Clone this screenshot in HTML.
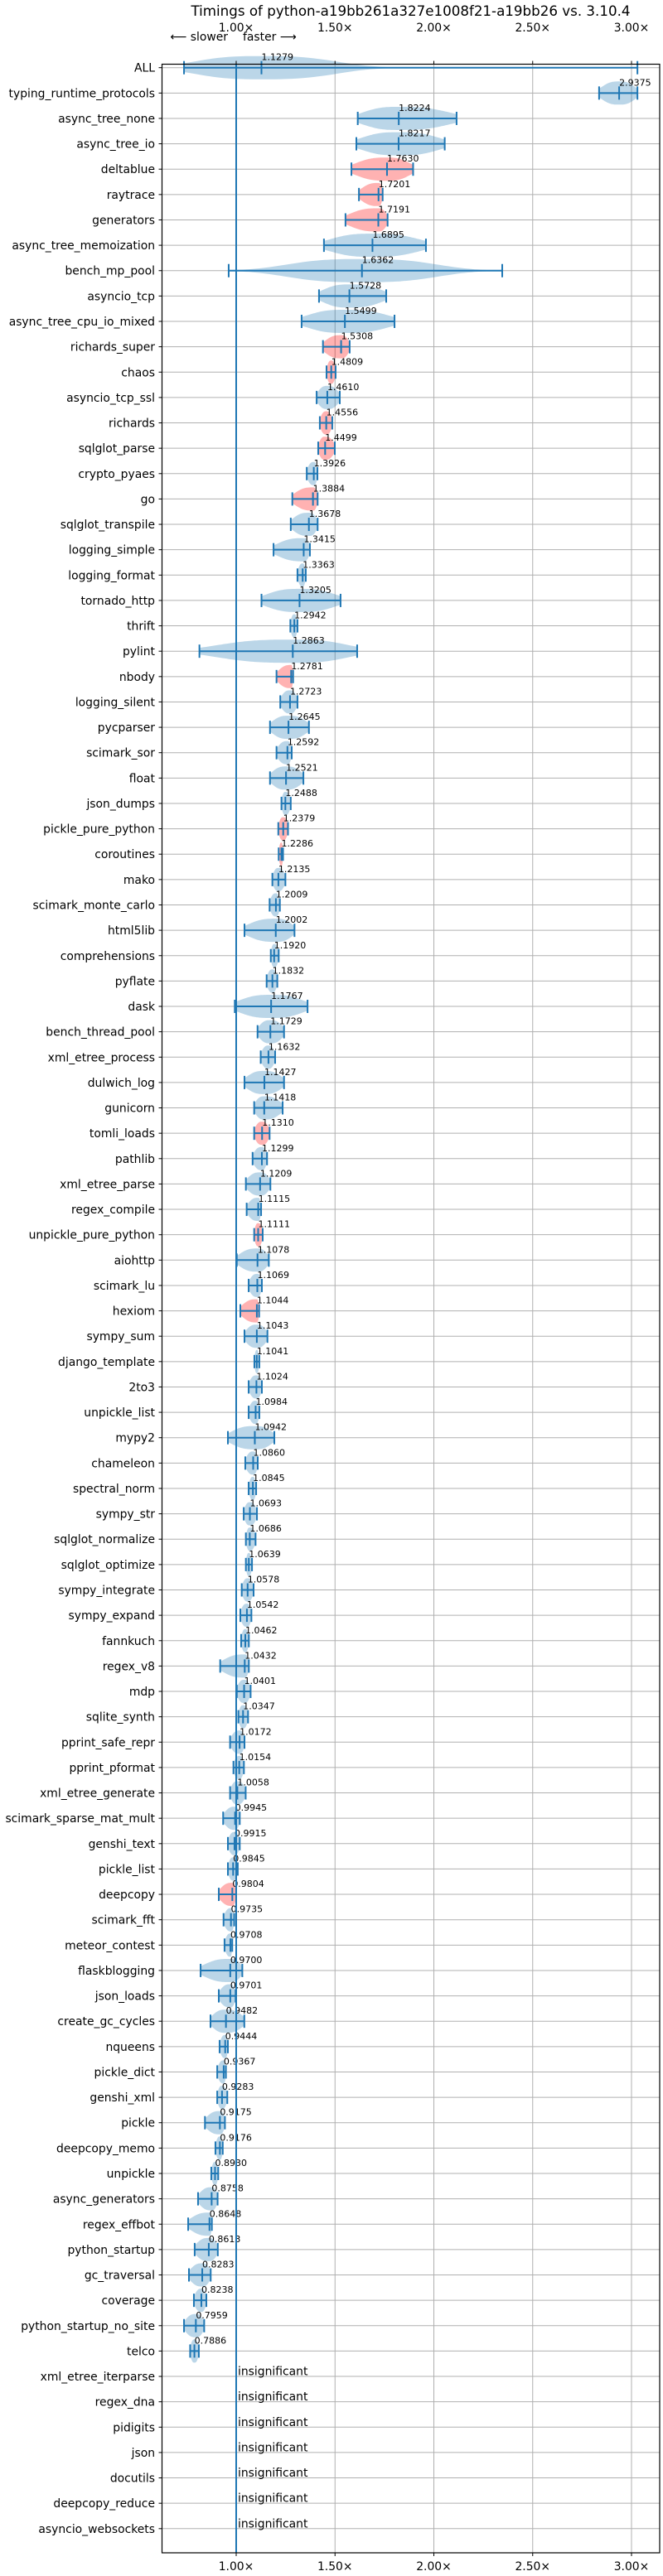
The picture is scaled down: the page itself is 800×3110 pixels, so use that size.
<!DOCTYPE html>
<html><head><meta charset="utf-8"><title>Timings chart</title>
<style>
html,body{margin:0;padding:0;background:#fff;}
svg{display:block;}
text{font-family:"DejaVu Sans","Liberation Sans",sans-serif;fill:#000;}
</style></head>
<body>
<svg id="chart" width="800" height="3110" viewBox="0 0 800 3110" xmlns="http://www.w3.org/2000/svg">
<text x="495.5" y="19" font-size="16.7" text-anchor="middle">Timings of python-a19bb261a327e1008f21-a19bb26 vs. 3.10.4</text>
<text x="275" y="49" font-size="13.9" text-anchor="end">⟵ slower</text>
<text x="293" y="49" font-size="13.9">faster ⟶</text>
<g id="grid"></g>
<g id="marks"></g>
<g id="labels"></g>
<g id="axes"></g>
</svg>
<script>
const benchmarks = ["ALL","typing_runtime_protocols","async_tree_none","async_tree_io","deltablue","raytrace","generators","async_tree_memoization","bench_mp_pool","asyncio_tcp","async_tree_cpu_io_mixed","richards_super","chaos","asyncio_tcp_ssl","richards","sqlglot_parse","crypto_pyaes","go","sqlglot_transpile","logging_simple","logging_format","tornado_http","thrift","pylint","nbody","logging_silent","pycparser","scimark_sor","float","json_dumps","pickle_pure_python","coroutines","mako","scimark_monte_carlo","html5lib","comprehensions","pyflate","dask","bench_thread_pool","xml_etree_process","dulwich_log","gunicorn","tomli_loads","pathlib","xml_etree_parse","regex_compile","unpickle_pure_python","aiohttp","scimark_lu","hexiom","sympy_sum","django_template","2to3","unpickle_list","mypy2","chameleon","spectral_norm","sympy_str","sqlglot_normalize","sqlglot_optimize","sympy_integrate","sympy_expand","fannkuch","regex_v8","mdp","sqlite_synth","pprint_safe_repr","pprint_pformat","xml_etree_generate","scimark_sparse_mat_mult","genshi_text","pickle_list","deepcopy","scimark_fft","meteor_contest","flaskblogging","json_loads","create_gc_cycles","nqueens","pickle_dict","genshi_xml","pickle","deepcopy_memo","unpickle","async_generators","regex_effbot","python_startup","gc_traversal","coverage","python_startup_no_site","telco","xml_etree_iterparse","regex_dna","pidigits","json","docutils","deepcopy_reduce","asyncio_websockets"];
const medians = [1.1279,2.9375,1.8224,1.8217,1.7630,1.7201,1.7191,1.6895,1.6362,1.5728,1.5499,1.5308,1.4809,1.4610,1.4556,1.4499,1.3926,1.3884,1.3678,1.3415,1.3363,1.3205,1.2942,1.2863,1.2781,1.2723,1.2645,1.2592,1.2521,1.2488,1.2379,1.2286,1.2135,1.2009,1.2002,1.1920,1.1832,1.1767,1.1729,1.1632,1.1427,1.1418,1.1310,1.1299,1.1209,1.1115,1.1111,1.1078,1.1069,1.1044,1.1043,1.1041,1.1024,1.0984,1.0942,1.0860,1.0845,1.0693,1.0686,1.0639,1.0578,1.0542,1.0462,1.0432,1.0401,1.0347,1.0172,1.0154,1.0058,0.9945,0.9915,0.9845,0.9804,0.9735,0.9708,0.9700,0.9701,0.9482,0.9444,0.9367,0.9283,0.9175,0.9176,0.8930,0.8758,0.8648,0.8613,0.8283,0.8238,0.7959,0.7886,null,null,null,null,null,null,null];
const mins = [0.736,2.836,1.615,1.608,1.583,1.621,1.553,1.444,0.962,1.419,1.331,1.439,1.457,1.407,1.423,1.415,1.357,1.284,1.276,1.189,1.310,1.128,1.274,0.814,1.204,1.223,1.171,1.204,1.171,1.229,1.213,1.215,1.183,1.169,1.042,1.175,1.154,0.993,1.108,1.124,1.042,1.091,1.091,1.083,1.049,1.053,1.091,1.003,1.063,1.021,1.042,1.092,1.063,1.063,0.958,1.046,1.063,1.038,1.049,1.049,1.028,1.021,1.025,0.919,1.003,1.011,0.969,0.986,0.969,0.934,0.958,0.958,0.912,0.936,0.941,0.820,0.912,0.870,0.916,0.904,0.904,0.842,0.895,0.874,0.807,0.757,0.790,0.761,0.786,0.736,0.767,null,null,null,null,null,null,null];
const maxs = [3.03,3.03,2.115,2.055,1.895,1.741,1.766,1.960,2.346,1.759,1.801,1.574,1.503,1.524,1.486,1.499,1.411,1.412,1.412,1.373,1.352,1.528,1.310,1.612,1.288,1.310,1.368,1.281,1.340,1.276,1.262,1.237,1.249,1.221,1.295,1.215,1.208,1.361,1.242,1.197,1.242,1.235,1.169,1.156,1.173,1.126,1.134,1.165,1.130,1.116,1.158,1.117,1.130,1.117,1.193,1.109,1.101,1.105,1.098,1.080,1.088,1.077,1.064,1.064,1.073,1.060,1.042,1.039,1.048,1.018,1.018,1.008,1.000,0.990,0.980,1.031,0.997,1.041,0.958,0.948,0.955,0.943,0.932,0.909,0.906,0.877,0.907,0.871,0.849,0.838,0.811,null,null,null,null,null,null,null];
const regressed = [0,0,0,0,1,1,1,0,0,0,0,1,1,0,1,1,0,1,0,0,0,0,0,0,1,0,0,0,0,0,1,1,0,0,0,0,0,0,0,0,0,0,1,0,0,0,1,0,0,1,0,0,0,0,0,0,0,0,0,0,0,0,0,0,0,0,0,0,0,0,0,0,1,0,0,0,0,0,0,0,0,0,0,0,0,0,0,0,0,0,0,0,0,0,0,0,0,0];
const xTicks = [1.0,1.5,2.0,2.5,3.0];
const xTickLabels = ["1.00×","1.50×","2.00×","2.50×","3.00×"];

const NS="http://www.w3.org/2000/svg";
const L=195.5,R=796,T=77.5,B=3082;
const X0=285,PX=238.5;
function xs(v){return X0+(v-1)*PX;}
function ys(i){return 81.7+i*30.63;}
function mk(tag,attrs,parent){const e=document.createElementNS(NS,tag);for(const k in attrs)e.setAttribute(k,attrs[k]);parent.appendChild(e);return e;}
const grid=document.getElementById('grid'),marks=document.getElementById('marks'),labels=document.getElementById('labels'),axes=document.getElementById('axes');
const BLUE="#1f77b4";

xTicks.forEach((t,k)=>{
  const g=mk('line',{x1:xs(t),x2:xs(t),y1:T,y2:B,stroke:'#b0b0b0','stroke-width':1},grid);
  
  
});
benchmarks.forEach((b,i)=>{
  const g=mk('line',{x1:L,x2:R,y1:ys(i),y2:ys(i),stroke:'#b0b0b0','stroke-width':1},grid);
  
  
});

const H=14;
benchmarks.forEach((b,i)=>{
  const y=ys(i);
  const med=medians[i];
  if(med===null){
    const t=mk('text',{x:287,y:y-1.5,'font-size':13.9},labels);
    t.textContent='insignificant';
    
    
    return;
  }
  const lo=mins[i],hi=maxs[i];
  const sl=Math.min(Math.max((med-lo)*0.8,0.004),0.35);
  const sr=Math.min(Math.max((hi-med)*0.8,0.004),0.35);
  const n=80;const top=[],bot=[];
  for(let k=0;k<=n;k++){
    const v=lo+(hi-lo)*k/n;
    const s=v<med?sl:sr;
    const h=H*Math.exp(-0.5*Math.pow(Math.abs((v-med)/s),3));
    top.push(xs(v).toFixed(1)+','+(y-h).toFixed(1));
    bot.unshift(xs(v).toFixed(1)+','+(y+h).toFixed(1));
  }
  const p=mk('polygon',{points:top.concat(bot).join(' '),fill:regressed[i]?'#ff0000':BLUE,'fill-opacity':0.3},marks);
  
  
  const w=mk('line',{x1:xs(lo),x2:xs(hi),y1:y,y2:y,stroke:BLUE,'stroke-width':2},marks);
  
  
  [lo,hi,med].forEach(v=>{
    const c=mk('line',{x1:xs(v),x2:xs(v),y1:y-8,y2:y+8,stroke:BLUE,'stroke-width':2},marks);
    
    
  });
  const t=mk('text',{x:xs(med),y:y-9,'font-size':11},labels);
  t.textContent=med.toFixed(4);
  
  
});

const bl=mk('line',{x1:xs(1),x2:xs(1),y1:T,y2:B,stroke:BLUE,'stroke-width':2},axes);



const fr=mk('rect',{x:L,y:T,width:R-L,height:B-T,fill:'none',stroke:'#000','stroke-width':1.2},axes);



xTicks.forEach((t,k)=>{
  const x=xs(t);
  mk('line',{x1:x,x2:x,y1:T-4,y2:T,stroke:'#000'},axes);
  mk('line',{x1:x,x2:x,y1:B,y2:B+4,stroke:'#000'},axes);
  const a=mk('text',{x:x,y:38,'font-size':13.9,'text-anchor':'middle'},axes);
  a.textContent=xTickLabels[k];
  
  
  const b=mk('text',{x:x,y:3103,'font-size':13.9,'text-anchor':'middle'},axes);
  b.textContent=xTickLabels[k];
  
  
});

benchmarks.forEach((b,i)=>{
  const y=ys(i);
  mk('line',{x1:L-4,x2:L,y1:y,y2:y,stroke:'#000'},axes);
  const t=mk('text',{x:187,y:y+5,'font-size':13.9,'text-anchor':'end'},axes);
  t.textContent=b;
  
  
});
</script>
</body></html>
